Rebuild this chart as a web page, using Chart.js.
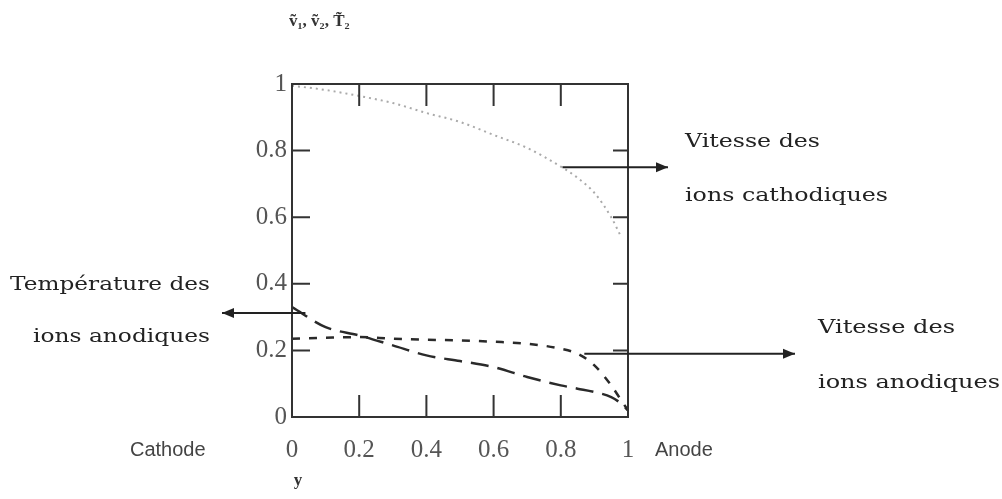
<!DOCTYPE html>
<html>
<head>
<meta charset="utf-8">
<script src="https://cdn.jsdelivr.net/npm/chart.js@4"></script>
<style>
  html, body { margin: 0; padding: 0; background: #fff; }
  #wrap { width: 1002px; height: 499px; position: relative; }
</style>
</head>
<body>
<div id="wrap"><canvas id="chart" width="1002" height="499"></canvas></div>
<script>
// positions along the gap, cathode (0) to anode (1)
const yPos = [0, 0.1, 0.2, 0.3, 0.4, 0.5, 0.6, 0.7, 0.8, 0.85, 0.9, 0.95, 0.98, 1];
const vCathode = [0.995, 0.982, 0.964, 0.943, 0.913, 0.886, 0.847, 0.808, 0.752, 0.718, 0.673, 0.60, 0.54, null];
const vAnode = [0.235, 0.238, 0.24, 0.235, 0.232, 0.23, 0.226, 0.22, 0.205, 0.19, 0.155, 0.095, 0.05, 0.02];
const tAnode = [0.33, 0.27, 0.245, 0.215, 0.185, 0.168, 0.15, 0.12, 0.095, 0.085, 0.075, 0.06, 0.04, 0.02];
const xTicks = [0, 0.2, 0.4, 0.6, 0.8, 1];
const yTicks = [0, 0.2, 0.4, 0.6, 0.8, 1];

const pts = arr => yPos.map((x, i) => ({ x, y: arr[i] }));

const SERIF = '"Liberation Serif", "DejaVu Serif", serif';

// inward ticks on all four sides + frame
const frame = {
  id: 'frame',
  afterDatasetsDraw(chart) {
    const { ctx, chartArea: a, scales } = chart;
    ctx.save();
    ctx.strokeStyle = '#333';
    ctx.lineWidth = 2;
    ctx.strokeRect(a.left, a.top, a.right - a.left, a.bottom - a.top);
    ctx.beginPath();
    xTicks.slice(1, -1).forEach(v => {
      const px = scales.x.getPixelForValue(v);
      ctx.moveTo(px, a.bottom); ctx.lineTo(px, a.bottom - 22);
      ctx.moveTo(px, a.top); ctx.lineTo(px, a.top + 22);
    });
    yTicks.slice(1, -1).forEach(v => {
      const py = scales.y.getPixelForValue(v);
      ctx.moveTo(a.left, py); ctx.lineTo(a.left + 18, py);
      ctx.moveTo(a.right, py); ctx.lineTo(a.right - 15, py);
    });
    ctx.stroke();
    ctx.restore();
  }
};

function arrow(ctx, x1, y, x2) {
  ctx.beginPath();
  ctx.moveTo(x1, y); ctx.lineTo(x2, y);
  ctx.stroke();
  const d = x2 > x1 ? 1 : -1;
  ctx.beginPath();
  ctx.moveTo(x2, y);
  ctx.lineTo(x2 - d * 12, y - 5);
  ctx.lineTo(x2 - d * 12, y + 5);
  ctx.closePath();
  ctx.fill();
}

// the note font is wider than anything installed, so stretch to width
function wideText(ctx, txt, x, y, w) {
  const m = ctx.measureText(txt).width;
  ctx.save();
  ctx.translate(x, y);
  ctx.scale(w / m, 1);
  ctx.fillText(txt, 0, 0);
  ctx.restore();
}

const notes = {
  id: 'notes',
  afterDraw(chart) {
    const { ctx, scales } = chart;
    const X = v => scales.x.getPixelForValue(v);
    const Y = v => scales.y.getPixelForValue(v);
    ctx.save();
    ctx.strokeStyle = '#222';
    ctx.fillStyle = '#222';
    ctx.lineWidth = 2;
    arrow(ctx, X(0.805), Y(0.75), 668);
    arrow(ctx, X(0.04), Y(0.312), 222);
    arrow(ctx, X(0.87), Y(0.19), 795);

    ctx.font = '19px "DejaVu Serif", serif';
    ctx.textBaseline = 'middle';
    ctx.textAlign = 'left';
    wideText(ctx, 'Vitesse des', 685, 142, 135);
    wideText(ctx, 'ions cathodiques', 685, 196, 203);
    wideText(ctx, 'Vitesse des', 818, 328, 137);
    wideText(ctx, 'ions anodiques', 818, 383, 182);
    wideText(ctx, 'Température des', 10, 285, 200);
    wideText(ctx, 'ions anodiques', 33, 337, 177);

    ctx.font = '20px "Liberation Sans", Arial, sans-serif';
    ctx.fillStyle = '#444';
    ctx.fillText('Cathode', 130, 450);
    ctx.fillText('Anode', 655, 450);

    ctx.fillStyle = '#333';
    ctx.font = 'bold 17px ' + SERIF;
    ctx.textAlign = 'center';
    ctx.fillText('y', 298, 481);

    ctx.font = 'bold 17px ' + SERIF;
    ctx.textAlign = 'left';
    ctx.fillText('ṽ₁, ṽ₂, T̃₂', 289, 22);
    ctx.restore();
  }
};

new Chart(document.getElementById('chart'), {
  type: 'line',
  data: {
    datasets: [
      {
        label: 'Vitesse des ions cathodiques',
        data: pts(vCathode),
        borderColor: '#aaa',
        borderWidth: 2,
        borderDash: [2, 4],
        pointRadius: 0,
        cubicInterpolationMode: 'monotone'
      },
      {
        label: 'Vitesse des ions anodiques',
        data: pts(vAnode),
        borderColor: '#2a2a2a',
        borderWidth: 2.5,
        borderDash: [8, 9],
        pointRadius: 0,
        cubicInterpolationMode: 'monotone'
      },
      {
        label: 'Température des ions anodiques',
        data: pts(tAnode),
        borderColor: '#2a2a2a',
        borderWidth: 2.5,
        borderDash: [18, 9],
        pointRadius: 0,
        cubicInterpolationMode: 'monotone'
      }
    ]
  },
  options: {
    responsive: false,
    animation: false,
    spanGaps: false,
    layout: { padding: { left: 0, right: 374, top: 84, bottom: 0 } },
    plugins: { legend: { display: false }, tooltip: { enabled: false } },
    scales: {
      x: {
        type: 'linear',
        min: 0, max: 1,
        afterBuildTicks: s => { s.ticks = xTicks.map(v => ({ value: v })); },
        afterFit: s => { s.height = 82; },
        grid: { display: false, drawTicks: false },
        border: { display: false },
        ticks: {
          padding: 18,
          color: '#555',
          font: { family: SERIF, size: 25 },
          callback: v => String(v)
        }
      },
      y: {
        min: 0, max: 1,
        afterBuildTicks: s => { s.ticks = yTicks.map(v => ({ value: v })); },
        afterFit: s => { s.width = 292; },
        grid: { display: false, drawTicks: false },
        border: { display: false },
        ticks: {
          padding: 5,
          color: '#555',
          font: { family: SERIF, size: 25 },
          callback: v => String(v)
        }
      }
    }
  },
  plugins: [frame, notes]
});
</script>
</body>
</html>
